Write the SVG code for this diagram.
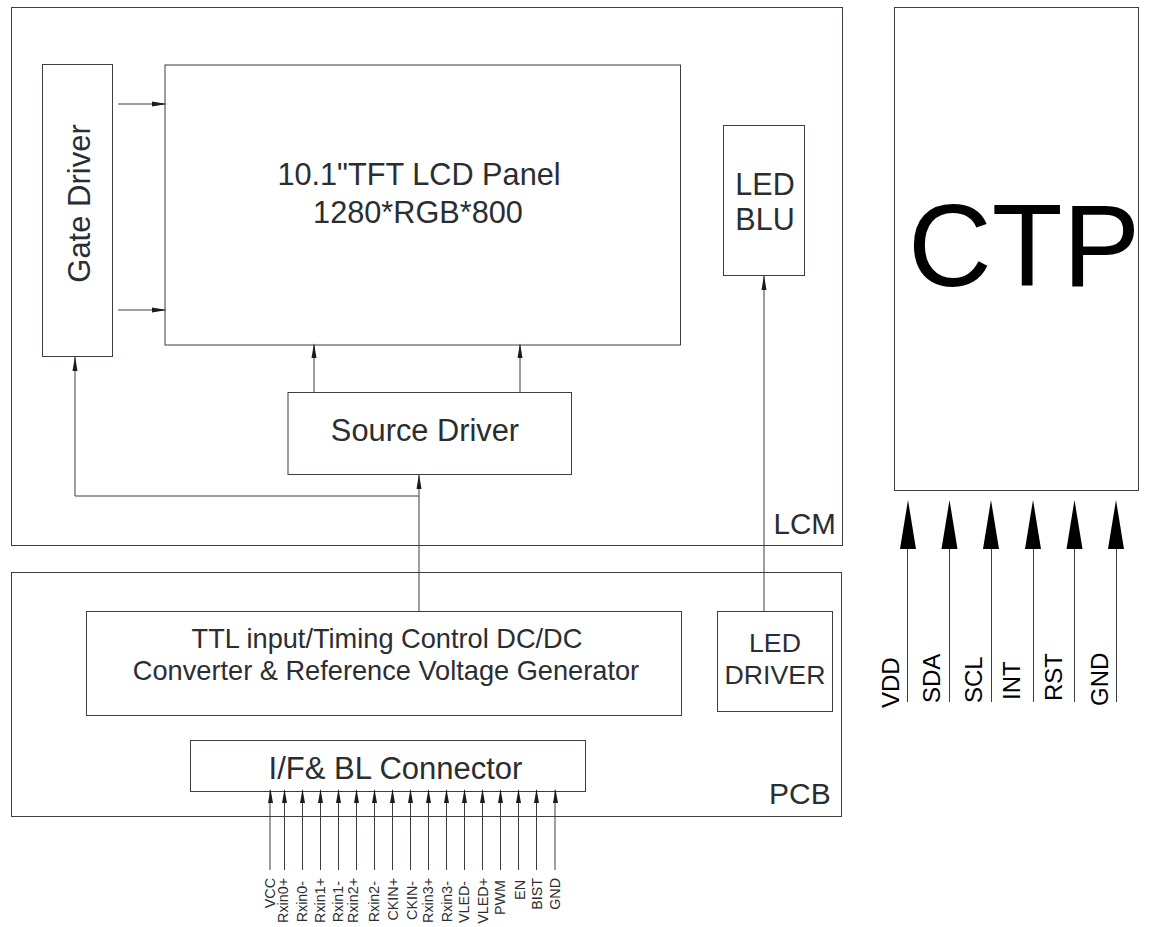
<svg xmlns="http://www.w3.org/2000/svg" width="1151" height="927" viewBox="0 0 1151 927">
<style>
.b{fill:#fff;stroke:#3a3f42;stroke-width:1}
.c{fill:none;stroke:#3a3f42;stroke-width:1}
.h{fill:#1a1d20;stroke:none}
.k{fill:#000;stroke:none}
text{font-family:"Liberation Sans",Arial,sans-serif;fill:#2b2e30}
.m{text-anchor:middle}
.p{font-size:14.300px;text-anchor:end}
.t{font-size:24px;fill:#000}
</style>
<rect width="1151" height="927" fill="#fff"/>
<g id="lcm"><rect class="b" x="11.500" y="7.500" width="831" height="538"/><text x="773.500" y="534" font-size="29.500">LCM</text></g>
<g id="pcb"><rect class="b" x="11.500" y="572.500" width="830" height="244"/><text x="769" y="804" font-size="30">PCB</text></g>
<g id="gate-driver"><rect class="b" x="42.500" y="64.500" width="70" height="292"/><text class="m" transform="translate(90 203.500) rotate(-90)" font-size="31">Gate Driver</text></g>
<g id="panel"><rect class="b" x="165" y="65" width="515.500" height="280"/><text class="m" x="419" y="185" font-size="30.700">10.1"TFT LCD Panel</text><text class="m" x="418" y="223" font-size="30.700">1280*RGB*800</text></g>
<g id="led-blu"><rect class="b" x="723.500" y="125.500" width="81" height="150"/><text class="m" x="765" y="195" font-size="30.500">LED</text><text class="m" x="765" y="230" font-size="30.500">BLU</text></g>
<g id="source-driver"><rect class="b" x="288" y="392.500" width="283.500" height="82"/><text class="m" x="425" y="441" font-size="30.800">Source Driver</text></g>
<g id="timing"><rect class="b" x="86.500" y="611.500" width="595" height="104"/><text class="m" x="387" y="648" font-size="27.200">TTL input/Timing Control DC/DC</text><text class="m" x="386" y="680" font-size="27.200">Converter &amp; Reference Voltage Generator</text></g>
<g id="led-driver"><rect class="b" x="717.500" y="611.500" width="115" height="100"/><text class="m" x="775" y="651.500" font-size="26.700">LED</text><text class="m" x="775" y="683.500" font-size="26.700">DRIVER</text></g>
<g id="connector"><rect class="b" x="190.500" y="740.500" width="395" height="51"/><text class="m" x="395.500" y="779" font-size="31">I/F&amp; BL Connector</text></g>
<g id="ctp"><rect class="b" x="894.500" y="7.500" width="244" height="483"/><text class="m k" x="1024" y="286" font-size="116">CTP</text></g>
<g id="connectors">
<path class="c" d="M118 104H165M118 310H165M314 392V345M520 392V345M419 611V475M419 496H75V357M764 611V276"/>
<path class="h" d="M167 104l-15-2.500v5zM167 310l-15-2.500v5zM314 343l-2.500 15h5zM520 343l-2.500 15h5zM419 474l-2.500 15h5zM75 356l-2.500 15h5zM764 275l-2.500 15h5z"/>
<path class="c" d="M270 870V790M284.500 870V790M302.500 870V790M320.500 870V790M338.500 870V790M356.500 870V790M374.500 870V790M392.500 870V790M410.500 870V790M428.500 870V790M446.500 870V790M464.500 870V790M482.500 870V790M500.500 870V790M518.500 870V790M536.500 870V790M555 870V790"/>
<path class="h" d="M270.500 789l-2.500 14h5zM284.500 789l-2.500 14h5zM302.500 789l-2.500 14h5zM320.500 789l-2.500 14h5zM338.500 789l-2.500 14h5zM356.500 789l-2.500 14h5zM374.500 789l-2.500 14h5zM392.500 789l-2.500 14h5zM410.500 789l-2.500 14h5zM428.500 789l-2.500 14h5zM446.500 789l-2.500 14h5zM464.500 789l-2.500 14h5zM482.500 789l-2.500 14h5zM500.500 789l-2.500 14h5zM518.500 789l-2.500 14h5zM536.500 789l-2.500 14h5zM555.500 789l-2.500 14h5z"/>
<path class="c" d="M907.500 702V545M949.500 702V545M991.500 702V545M1033.500 702V545M1074.500 702V545M1116.500 702V545"/>
<path class="k" d="M908 500l-8 49h16zM949.500 500l-8 49h16zM991 500l-8 49h16zM1033 500l-8 49h16zM1074.500 500l-8 49h16zM1116 500l-8 49h16z"/>
</g>
<g id="pin-labels">
<text class="p" transform="translate(275 878) rotate(-90)">VCC</text>
<text class="p" transform="translate(288 878) rotate(-90)">Rxin0+</text>
<text class="p" transform="translate(307 881) rotate(-90)">Rxin0-</text>
<text class="p" transform="translate(325 878) rotate(-90)">Rxin1+</text>
<text class="p" transform="translate(343 881) rotate(-90)">Rxin1-</text>
<text class="p" transform="translate(358 878) rotate(-90)">Rxin2+</text>
<text class="p" transform="translate(379 881) rotate(-90)">Rxin2-</text>
<text class="p" transform="translate(398 878) rotate(-90)">CKIN+</text>
<text class="p" transform="translate(416.500 881) rotate(-90)">CKIN-</text>
<text class="p" transform="translate(433 878) rotate(-90)">Rxin3+</text>
<text class="p" transform="translate(451.500 881) rotate(-90)">Rxin3-</text>
<text class="p" transform="translate(469 881) rotate(-90)">VLED-</text>
<text class="p" transform="translate(488 878) rotate(-90)">VLED+</text>
<text class="p" transform="translate(505 880) rotate(-90)">PWM</text>
<text class="p" transform="translate(525 880) rotate(-90)">EN</text>
<text class="p" transform="translate(541.500 878) rotate(-90)">BIST</text>
<text class="p" transform="translate(560 878) rotate(-90)">GND</text>
</g>
<g id="ctp-labels">
<text class="t" transform="translate(899 708) rotate(-90)">VDD</text>
<text class="t" transform="translate(939.500 703) rotate(-90)">SDA</text>
<text class="t" transform="translate(981.500 703) rotate(-90)">SCL</text>
<text class="t" transform="translate(1020 700) rotate(-90)">INT</text>
<text class="t" transform="translate(1061.500 701) rotate(-90)">RST</text>
<text class="t" transform="translate(1108 706) rotate(-90)">GND</text>
</g>
</svg>
